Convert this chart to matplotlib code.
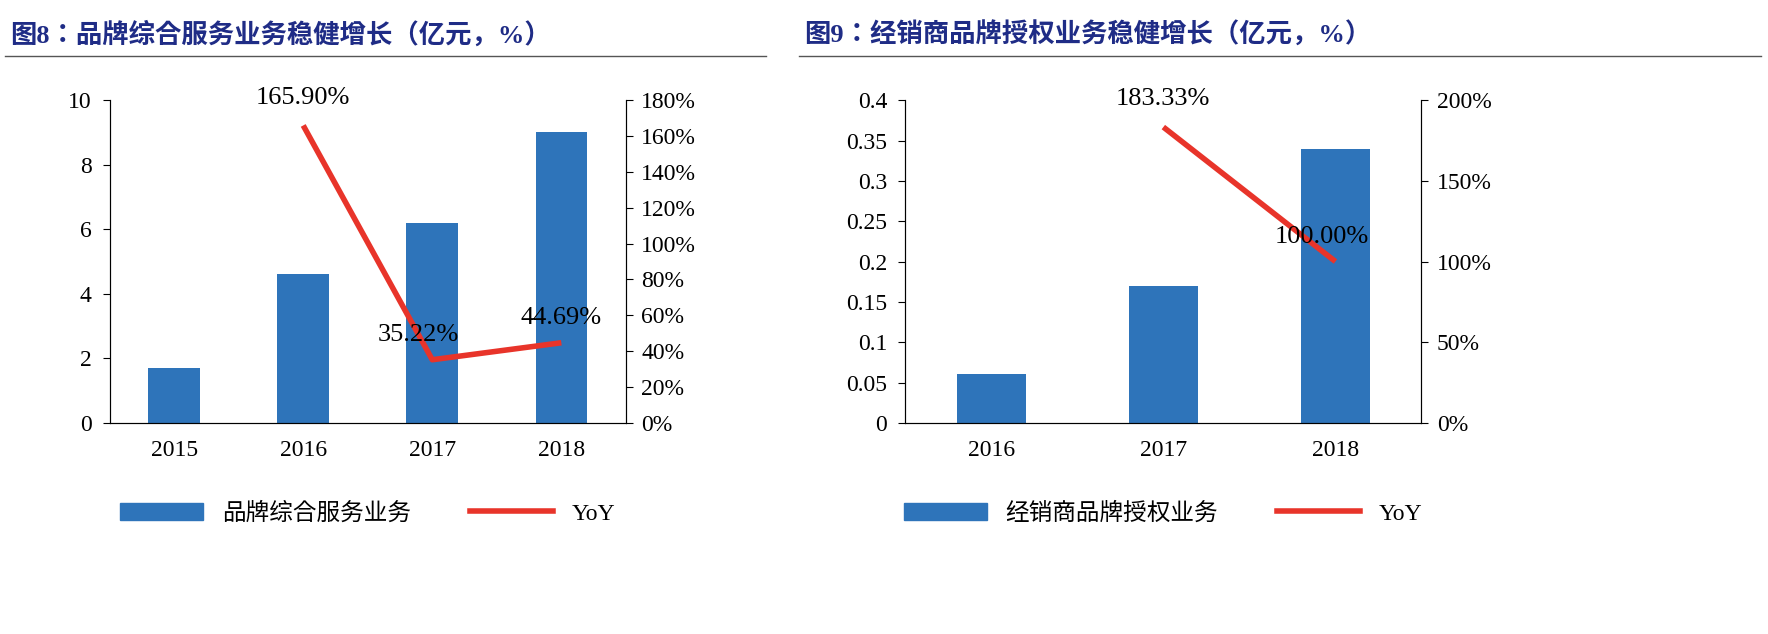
import matplotlib.pyplot as plt
from matplotlib import font_manager
from matplotlib.lines import Line2D
from matplotlib.patches import Patch

cjk = [f.name for f in font_manager.fontManager.ttflist if 'CJK' in f.name]
cjk_name = 'Noto Sans CJK SC' if 'Noto Sans CJK SC' in cjk else (cjk[0] if cjk else 'DejaVu Sans')
plt.rcParams['font.family'] = ['Liberation Serif', cjk_name]

years_a = ['2015', '2016', '2017', '2018']
rev_a = [1.7, 4.6, 6.2, 9.0]
yoy_a = [None, 165.90, 35.22, 44.69]

years_b = ['2016', '2017', '2018']
rev_b = [0.06, 0.17, 0.34]
yoy_b = [None, 183.33, 100.00]

BAR = '#2E74BA'
LINE = '#E8342A'
NAVY = '#1F2C86'

fig = plt.figure(figsize=(17.68, 6.34), dpi=100)


def panel(left, title, cats, vals, yoy, ymax, ystep, rmax, rstep, name, lab_offsets, tx0, tx1):
    fig.text(tx0, 0.945, title, fontsize=19, fontweight='bold', color=NAVY, va='center')
    fig.add_artist(Line2D([tx0 - 0.003, tx1], [0.912, 0.912], color='#555555', lw=1))
    ax = fig.add_axes([left, 0.333, 0.292, 0.509])
    x = list(range(len(cats)))
    ax.bar(x, vals, width=0.4, color=BAR)
    ax.set_xlim(-0.5, len(cats) - 0.5)
    ax.set_ylim(0, ymax)
    yt = [i * ystep for i in range(int(round(ymax / ystep)) + 1)]
    ax.set_yticks(yt)
    ax.set_yticklabels([f'{round(v, 2):g}' for v in yt], fontsize=17)
    ax.set_xticks(x)
    ax.set_xticklabels(cats, fontsize=17)
    ax.tick_params(axis='x', length=0, pad=12)
    ax.tick_params(axis='y', direction='out', length=5, pad=8)
    ax.spines['top'].set_visible(False)
    for s in ['left', 'bottom', 'right']:
        ax.spines[s].set_color('#333333')
    ax2 = ax.twinx()
    ax2.set_ylim(0, rmax)
    rt = list(range(0, rmax + 1, rstep))
    ax2.set_yticks(rt)
    ax2.set_yticklabels([f'{v}%' for v in rt], fontsize=17)
    ax2.tick_params(axis='y', direction='out', length=5, pad=6)
    ax2.spines['top'].set_visible(False)
    px = [i for i, v in enumerate(yoy) if v is not None]
    py = [v for v in yoy if v is not None]
    ax2.plot(px, py, color=LINE, lw=4, solid_capstyle='butt')
    for (i, v), (dx, dy) in zip(zip(px, py), lab_offsets):
        ax2.annotate(f'{v:.2f}%', (i, v), xytext=(dx, dy), textcoords='offset points',
                     ha='center', va='bottom', fontsize=19)
    handles = [Patch(color=BAR), Line2D([], [], color=LINE, lw=4)]
    fig.legend(handles, [name, 'YoY'], loc='center', bbox_to_anchor=(left + 0.146, 0.19),
               ncol=2, frameon=False, fontsize=17, columnspacing=2.5, handlelength=3.5)


panel(0.062, '图8：品牌综合服务业务稳健增长（亿元，%）', years_a, rev_a, yoy_a, 10, 2, 180, 20,
      '品牌综合服务业务', [(0, 12), (-10, 10), (0, 10)], 0.006, 0.433)
panel(0.512, '图9：经销商品牌授权业务稳健增长（亿元，%）', years_b, rev_b, yoy_b, 0.4, 0.05, 200, 50,
      '经销商品牌授权业务', [(0, 12), (-10, 10)], 0.455, 0.996)

fig.savefig('out.png', dpi=100)
